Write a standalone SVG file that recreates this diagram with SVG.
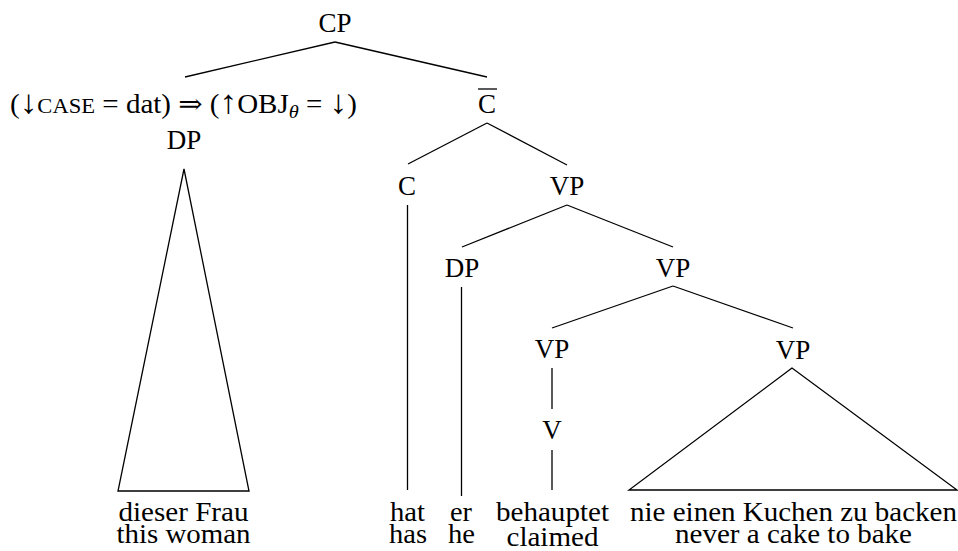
<svg xmlns="http://www.w3.org/2000/svg" width="958" height="551" viewBox="0 0 958 551" font-family="'Liberation Serif', 'DejaVu Serif', serif">
<style>
text{font-family:"Liberation Serif","DejaVu Serif",serif;font-size:27px;fill:#000;text-anchor:middle}
.ar{font-size:33px}
.e{stroke:#000;stroke-width:1.3;fill:none}
</style>
<rect width="958" height="551" fill="#fff"/>
<g id="connectors" class="e">
<line x1="335" y1="42" x2="185" y2="77"/>
<line x1="335" y1="42" x2="487" y2="77"/>
<line x1="487" y1="123" x2="408" y2="164"/>
<line x1="487" y1="123" x2="567" y2="165"/>
<line x1="407.5" y1="205" x2="407.5" y2="490"/>
<line x1="567" y1="205" x2="462" y2="247"/>
<line x1="567" y1="205" x2="673" y2="247"/>
<line x1="461.5" y1="287" x2="461.5" y2="496"/>
<line x1="673" y1="286" x2="552" y2="328"/>
<line x1="673" y1="286" x2="793" y2="328"/>
<line x1="552" y1="368" x2="552" y2="409"/>
<line x1="552" y1="450" x2="552" y2="490"/>
<polygon points="184,169 118,491 249,491"/>
<polygon points="792,368 629,490 957,490"/>
</g>
<g id="n-CP"><text x="335" y="32">CP</text></g>
<g id="n-DP1">
<text x="183.5" y="113" textLength="347" lengthAdjust="spacingAndGlyphs">(<tspan class="ar">↓</tspan><tspan font-size="21">CASE</tspan> = dat) ⇒ (<tspan class="ar">↑</tspan>OBJ<tspan font-size="19" font-style="italic" dy="5">θ</tspan><tspan dy="-5"> = </tspan><tspan class="ar">↓</tspan>)</text>
<text x="184" y="149">DP</text>
</g>
<g id="n-Cbar"><text x="487" y="113">C</text><line x1="478" y1="89" x2="497" y2="89" stroke="#000" stroke-width="1.3"/></g>
<g id="n-C"><text x="407" y="195">C</text></g>
<g id="n-VP1"><text x="567" y="195">VP</text></g>
<g id="n-DP2"><text x="462" y="277">DP</text></g>
<g id="n-VP2"><text x="673" y="277">VP</text></g>
<g id="n-VP3"><text x="552" y="358">VP</text></g>
<g id="n-V"><text x="552" y="439">V</text></g>
<g id="n-VP4"><text x="793" y="359">VP</text></g>
<g id="leaf-dieser"><text x="183.5" y="521" textLength="130" lengthAdjust="spacingAndGlyphs">dieser Frau</text><text x="183.5" y="543" textLength="134" lengthAdjust="spacingAndGlyphs">this woman</text></g>
<g id="leaf-hat"><text x="407.5" y="521" textLength="35" lengthAdjust="spacingAndGlyphs">hat</text><text x="408" y="543" textLength="38" lengthAdjust="spacingAndGlyphs">has</text></g>
<g id="leaf-er"><text x="461" y="521" textLength="22" lengthAdjust="spacingAndGlyphs">er</text><text x="461.5" y="543" textLength="27" lengthAdjust="spacingAndGlyphs">he</text></g>
<g id="leaf-behauptet"><text x="552.5" y="521" textLength="113" lengthAdjust="spacingAndGlyphs">behauptet</text><text x="552.5" y="546" textLength="92" lengthAdjust="spacingAndGlyphs">claimed</text></g>
<g id="leaf-nie"><text x="793.5" y="521" textLength="327" lengthAdjust="spacingAndGlyphs">nie einen Kuchen zu backen</text><text x="793.5" y="543" textLength="237" lengthAdjust="spacingAndGlyphs">never a cake to bake</text></g>
</svg>
